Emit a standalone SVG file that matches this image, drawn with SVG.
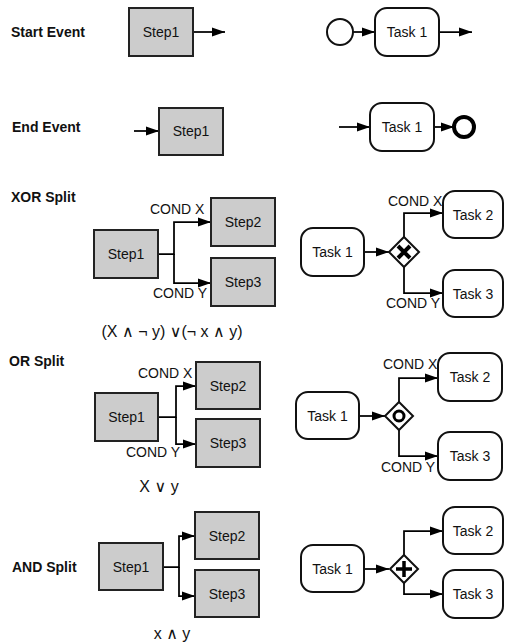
<svg xmlns="http://www.w3.org/2000/svg" width="505" height="643" viewBox="0 0 505 643">
<defs>
<marker id="arr" markerUnits="userSpaceOnUse" markerWidth="14" markerHeight="10" refX="13" refY="5" orient="auto">
<path d="M0,0.5 L13,5 L0,9.5 z" fill="#000"/>
</marker>
<style>
.step{fill:#cccccc;stroke:#222;stroke-width:2}
.task{fill:#fff;stroke:#111;stroke-width:2}
.gw{fill:#fff;stroke:#111;stroke-width:2}
.arr{fill:none;stroke:#000;stroke-width:1.75;marker-end:url(#arr)}
text{font-family:"Liberation Sans","DejaVu Sans",sans-serif;fill:#111}
.t{font-size:14px;text-anchor:middle;dominant-baseline:central}
.h{font-size:14px;font-weight:bold}
.c{font-size:14px}
.f{font-size:16px;text-anchor:middle}
</style>
</defs>
<rect width="505" height="643" fill="#fff"/>
<g id="labels">
<text class="h" x="11" y="37">Start Event</text>
<text class="h" x="12" y="132">End Event</text>
<text class="h" x="11" y="202">XOR Split</text>
<text class="h" x="9" y="366">OR Split</text>
<text class="h" x="12" y="572">AND Split</text>
<text class="c" x="150" y="214">COND X</text>
<text class="c" x="153" y="298">COND Y</text>
<text class="f" x="172" y="337">(X ∧ ¬ y) ∨(¬ x ∧ y)</text>
<text class="c" x="388" y="206">COND X</text>
<text class="c" x="386" y="308">COND Y</text>
<text class="c" x="138" y="378">COND X</text>
<text class="c" x="126" y="457">COND Y</text>
<text class="f" x="159" y="492">X ∨ y</text>
<text class="c" x="383" y="369">COND X</text>
<text class="c" x="381" y="472">COND Y</text>
<text class="f" x="172" y="639">x ∧ y</text>
</g>
<g id="connectors">
<path class="arr" d="M193,32 H225"/>
<path class="arr" d="M353,32 H375"/>
<path class="arr" d="M439,32 H472"/>
<path class="arr" d="M134,131 H159"/>
<path class="arr" d="M339,127 H370"/>
<path class="arr" d="M434,127 H454"/>
<path class="arr" d="M158,254 H174 V222 H211"/>
<path class="arr" d="M174,254 V283 H211"/>
<path class="arr" d="M364,252 H389"/>
<path class="arr" d="M404,237 V213 H443"/>
<path class="arr" d="M404,267 V293 H443"/>
<path class="arr" d="M158,417 H176 V386 H196"/>
<path class="arr" d="M176,417 V444 H196"/>
<path class="arr" d="M359,416 H385"/>
<path class="arr" d="M399,402 V378 H438"/>
<path class="arr" d="M399,430 V456 H438"/>
<path class="arr" d="M163,567 H179 V536 H195"/>
<path class="arr" d="M179,567 V596 H195"/>
<path class="arr" d="M364,569 H389"/>
<path class="arr" d="M404,555 V531 H443"/>
<path class="arr" d="M404,583 V594 H443"/>
</g>
<g id="start-step1"><rect class="step" x="129" y="8" width="64" height="48"/><text class="t" x="161" y="32">Step1</text></g>
<g id="start-event"><circle cx="340" cy="32" r="13" fill="#fff" stroke="#111" stroke-width="2"/></g>
<g id="start-task1"><rect class="task" x="375" y="8" width="64" height="48" rx="12"/><text class="t" x="407" y="32">Task 1</text></g>
<g id="end-step1"><rect class="step" x="159" y="108" width="64" height="47"/><text class="t" x="191" y="131">Step1</text></g>
<g id="end-task1"><rect class="task" x="370" y="103" width="64" height="48" rx="12"/><text class="t" x="402" y="127">Task 1</text></g>
<g id="end-event"><circle cx="464" cy="127" r="10" fill="#fff" stroke="#000" stroke-width="4"/></g>
<g id="xor-step1"><rect class="step" x="94" y="230" width="64" height="48"/><text class="t" x="126" y="254">Step1</text></g>
<g id="xor-step2"><rect class="step" x="211" y="198" width="64" height="48"/><text class="t" x="243" y="222">Step2</text></g>
<g id="xor-step3"><rect class="step" x="211" y="258" width="64" height="48"/><text class="t" x="243" y="282">Step3</text></g>
<g id="xor-task1"><rect class="task" x="301" y="228" width="63" height="48" rx="12"/><text class="t" x="332.5" y="252">Task 1</text></g>
<g id="xor-gw"><path class="gw" d="M404,237 L419,252 L404,267 L389,252 z"/><path d="M398,246 L410,258 M410,246 L398,258" stroke="#000" stroke-width="4"/></g>
<g id="xor-task2"><rect class="task" x="443" y="191" width="60" height="47" rx="12"/><text class="t" x="473" y="214.5">Task 2</text></g>
<g id="xor-task3"><rect class="task" x="443" y="270" width="60" height="47" rx="12"/><text class="t" x="473" y="293.5">Task 3</text></g>
<g id="or-step1"><rect class="step" x="95" y="393" width="63" height="48"/><text class="t" x="126.5" y="417">Step1</text></g>
<g id="or-step2"><rect class="step" x="196" y="362" width="64" height="47"/><text class="t" x="228" y="385.5">Step2</text></g>
<g id="or-step3"><rect class="step" x="196" y="419" width="64" height="48"/><text class="t" x="228" y="443">Step3</text></g>
<g id="or-task1"><rect class="task" x="296" y="392" width="63" height="47" rx="12"/><text class="t" x="327.5" y="415.5">Task 1</text></g>
<g id="or-gw"><path class="gw" d="M399,402 L413,416 L399,430 L385,416 z"/><circle cx="399" cy="416" r="5" fill="none" stroke="#000" stroke-width="3"/></g>
<g id="or-task2"><rect class="task" x="438" y="353" width="64" height="48" rx="12"/><text class="t" x="470" y="377">Task 2</text></g>
<g id="or-task3"><rect class="task" x="438" y="432" width="64" height="48" rx="12"/><text class="t" x="470" y="456">Task 3</text></g>
<g id="and-step1"><rect class="step" x="99" y="543" width="64" height="47"/><text class="t" x="131" y="566.5">Step1</text></g>
<g id="and-step2"><rect class="step" x="195" y="512" width="64" height="47"/><text class="t" x="227" y="535.5">Step2</text></g>
<g id="and-step3"><rect class="step" x="195" y="570" width="64" height="47"/><text class="t" x="227" y="593.5">Step3</text></g>
<g id="and-task1"><rect class="task" x="301" y="545" width="63" height="47" rx="12"/><text class="t" x="332.5" y="568.5">Task 1</text></g>
<g id="and-gw"><path class="gw" d="M404,555 L418,569 L404,583 L390,569 z"/><path d="M396,569 H412 M404,561 V577" stroke="#000" stroke-width="3.5"/></g>
<g id="and-task2"><rect class="task" x="443" y="507" width="60" height="47" rx="12"/><text class="t" x="473" y="530.5">Task 2</text></g>
<g id="and-task3"><rect class="task" x="443" y="570" width="60" height="48" rx="12"/><text class="t" x="473" y="594">Task 3</text></g>
</svg>
